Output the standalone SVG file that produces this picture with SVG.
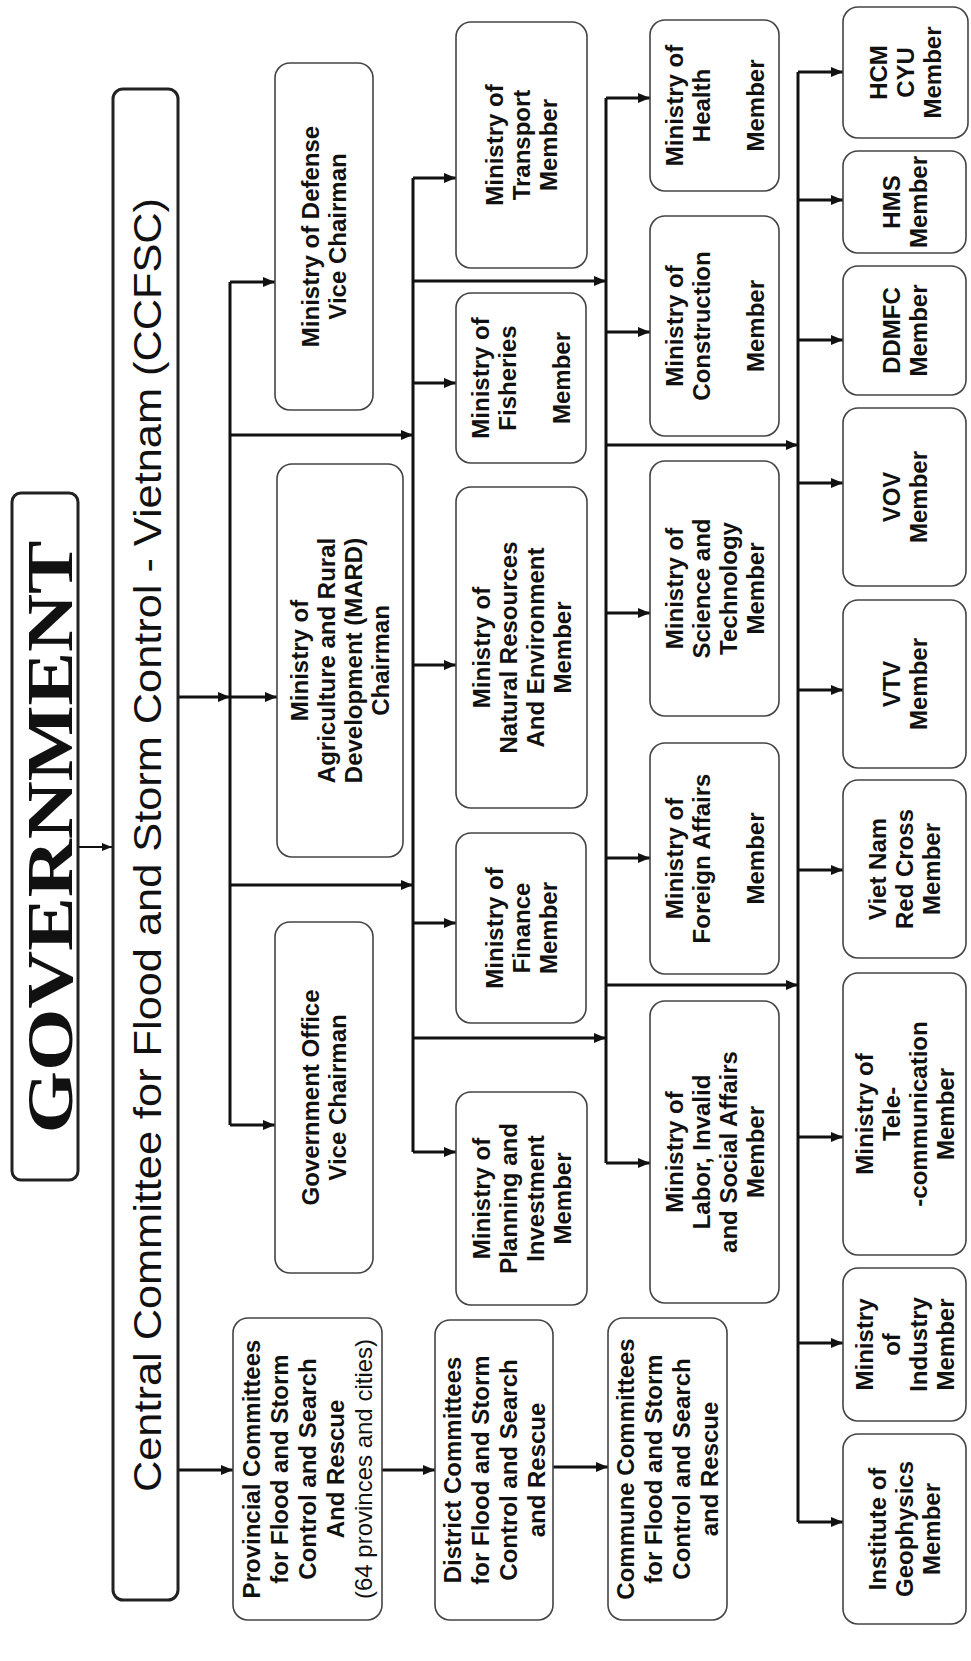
<svg xmlns="http://www.w3.org/2000/svg" width="971" height="1661" viewBox="0 0 971 1661">
<defs>
<style>
.box{fill:#fff;stroke:#444;stroke-width:1.6}
.main{fill:#fff;stroke:#222;stroke-width:3}
.t{font-family:"Liberation Sans",Arial,sans-serif;font-size:24px;font-weight:bold;fill:#111;text-anchor:middle}
.reg{font-weight:normal}
.c{fill:none;stroke:#111;stroke-width:3}
.a{fill:none;stroke:#111;stroke-width:3;marker-end:url(#ah)}
.thin{fill:none;stroke:#111;stroke-width:2;marker-end:url(#ahs)}
</style>
<marker id="ah" viewBox="0 0 12 10" refX="12" refY="5" markerWidth="12" markerHeight="10" markerUnits="userSpaceOnUse" orient="auto"><path d="M0,0 L12,5 L0,10 z" fill="#111"/></marker>
<marker id="ahs" viewBox="0 0 10 8" refX="10" refY="4" markerWidth="10" markerHeight="8" markerUnits="userSpaceOnUse" orient="auto"><path d="M0,0 L10,4 L0,8 z" fill="#111"/></marker>
</defs>
<rect width="971" height="1661" fill="#fff"/>

<g id="connectors">
<path class="thin" d="M78,847 H112"/>
<path class="a" d="M178,697 H230"/>
<path class="a" d="M230,697 H277"/>
<path class="c" d="M230,282 V1125"/>
<path class="a" d="M230,282 H275"/>
<path class="a" d="M230,1125 H275"/>
<path class="a" d="M230,435 H413"/>
<path class="a" d="M230,885 H413"/>
<path class="c" d="M413,178 V1152"/>
<path class="a" d="M413,178 H456"/>
<path class="a" d="M413,383 H456"/>
<path class="a" d="M413,665 H456"/>
<path class="a" d="M413,923 H456"/>
<path class="a" d="M413,1152 H456"/>
<path class="a" d="M413,281 H606"/>
<path class="a" d="M413,1038 H606"/>
<path class="c" d="M606,98 V1163"/>
<path class="a" d="M606,98 H650"/>
<path class="a" d="M606,332 H650"/>
<path class="a" d="M606,613 H650"/>
<path class="a" d="M606,858 H650"/>
<path class="a" d="M606,1163 H650"/>
<path class="a" d="M606,445 H798"/>
<path class="a" d="M606,985 H798"/>
<path class="c" d="M798,72 V1522"/>
<path class="a" d="M798,72 H843"/>
<path class="a" d="M798,200 H843"/>
<path class="a" d="M798,340 H843"/>
<path class="a" d="M798,483 H843"/>
<path class="a" d="M798,690 H843"/>
<path class="a" d="M798,870 H843"/>
<path class="a" d="M798,1137 H843"/>
<path class="a" d="M798,1343 H843"/>
<path class="a" d="M798,1522 H843"/>
<path class="a" d="M178,1470 H233"/>
<path class="a" d="M382,1470 H435"/>
<path class="a" d="M553,1467 H608"/>
</g>

<g id="government">
<rect class="main" x="12" y="493" width="66" height="687" rx="9"/>
<text transform="translate(71.5,837) rotate(-90)" x="0" y="0" text-anchor="middle" textLength="593" lengthAdjust="spacingAndGlyphs" style="font-family:'Liberation Serif','Times New Roman',serif;font-size:65px;font-weight:bold;fill:#111">GOVERNMENT</text>
</g>

<g id="ccfsc">
<rect class="main" x="113" y="89" width="65" height="1511" rx="10"/>
<text transform="translate(160.5,845) rotate(-90)" x="0" y="0" text-anchor="middle" textLength="1294" lengthAdjust="spacingAndGlyphs" style="font-family:'Liberation Sans',Arial,sans-serif;font-size:38px;fill:#111">Central Committee for Flood and Storm Control - Vietnam (CCFSC)</text>
</g>

<g id="defense">
<rect class="box" x="275" y="63" width="98" height="347" rx="15"/>
<text class="t" transform="translate(324,236.5) rotate(-90)"><tspan x="0" y="-5">Ministry of Defense</tspan><tspan x="0" y="22">Vice Chairman</tspan></text>
</g>

<g id="mard">
<rect class="box" x="277" y="464" width="126" height="393" rx="15"/>
<text class="t" transform="translate(340,660.5) rotate(-90)"><tspan x="0" y="-32">Ministry of</tspan><tspan x="0" y="-5">Agriculture and Rural</tspan><tspan x="0" y="22">Development (MARD)</tspan><tspan x="0" y="49">Chairman</tspan></text>
</g>

<g id="govoffice">
<rect class="box" x="275" y="922" width="98" height="351" rx="15"/>
<text class="t" transform="translate(324,1097.5) rotate(-90)"><tspan x="0" y="-5">Government Office</tspan><tspan x="0" y="22">Vice Chairman</tspan></text>
</g>

<g id="transport">
<rect class="box" x="456" y="22" width="131" height="246" rx="15"/>
<text class="t" transform="translate(521.5,145) rotate(-90)"><tspan x="0" y="-18.5">Ministry of</tspan><tspan x="0" y="8.5">Transport</tspan><tspan x="0" y="35.5">Member</tspan></text>
</g>

<g id="fisheries">
<rect class="box" x="456" y="293" width="130" height="170" rx="15"/>
<text class="t" transform="translate(521,378) rotate(-90)"><tspan x="0" y="-32">Ministry of</tspan><tspan x="0" y="-5">Fisheries</tspan><tspan x="0" y="49">Member</tspan></text>
</g>

<g id="natres">
<rect class="box" x="456" y="487" width="131" height="321" rx="15"/>
<text class="t" transform="translate(521.5,647.5) rotate(-90)"><tspan x="0" y="-32">Ministry of</tspan><tspan x="0" y="-5">Natural Resources</tspan><tspan x="0" y="22">And Environment</tspan><tspan x="0" y="49">Member</tspan></text>
</g>

<g id="finance">
<rect class="box" x="456" y="833" width="130" height="190" rx="15"/>
<text class="t" transform="translate(521,928) rotate(-90)"><tspan x="0" y="-18.5">Ministry of</tspan><tspan x="0" y="8.5">Finance</tspan><tspan x="0" y="35.5">Member</tspan></text>
</g>

<g id="planning">
<rect class="box" x="456" y="1092" width="131" height="213" rx="15"/>
<text class="t" transform="translate(521.5,1198.5) rotate(-90)"><tspan x="0" y="-32">Ministry of</tspan><tspan x="0" y="-5">Planning and</tspan><tspan x="0" y="22">Investment</tspan><tspan x="0" y="49">Member</tspan></text>
</g>

<g id="health">
<rect class="box" x="650" y="20" width="129" height="171" rx="15"/>
<text class="t" transform="translate(714.5,105.5) rotate(-90)"><tspan x="0" y="-32">Ministry of</tspan><tspan x="0" y="-5">Health</tspan><tspan x="0" y="49">Member</tspan></text>
</g>

<g id="construction">
<rect class="box" x="650" y="216" width="129" height="220" rx="15"/>
<text class="t" transform="translate(714.5,326) rotate(-90)"><tspan x="0" y="-32">Ministry of</tspan><tspan x="0" y="-5">Construction</tspan><tspan x="0" y="49">Member</tspan></text>
</g>

<g id="science">
<rect class="box" x="650" y="461" width="129" height="255" rx="15"/>
<text class="t" transform="translate(714.5,588.5) rotate(-90)"><tspan x="0" y="-32">Ministry of</tspan><tspan x="0" y="-5">Science and</tspan><tspan x="0" y="22">Technology</tspan><tspan x="0" y="49">Member</tspan></text>
</g>

<g id="foreign">
<rect class="box" x="650" y="743" width="129" height="231" rx="15"/>
<text class="t" transform="translate(714.5,858.5) rotate(-90)"><tspan x="0" y="-32">Ministry of</tspan><tspan x="0" y="-5">Foreign Affairs</tspan><tspan x="0" y="49">Member</tspan></text>
</g>

<g id="labor">
<rect class="box" x="650" y="1001" width="129" height="302" rx="15"/>
<text class="t" transform="translate(714.5,1152) rotate(-90)"><tspan x="0" y="-32">Ministry of</tspan><tspan x="0" y="-5">Labor, Invalid</tspan><tspan x="0" y="22">and Social Affairs</tspan><tspan x="0" y="49">Member</tspan></text>
</g>

<g id="hcm">
<rect class="box" x="843" y="7" width="125" height="131" rx="15"/>
<text class="t" transform="translate(905.5,72.5) rotate(-90)"><tspan x="0" y="-18.5">HCM</tspan><tspan x="0" y="8.5">CYU</tspan><tspan x="0" y="35.5">Member</tspan></text>
</g>

<g id="hms">
<rect class="box" x="843" y="151" width="123" height="102" rx="15"/>
<text class="t" transform="translate(904.5,202) rotate(-90)"><tspan x="0" y="-5">HMS</tspan><tspan x="0" y="22">Member</tspan></text>
</g>

<g id="ddmfc">
<rect class="box" x="843" y="266" width="123" height="129" rx="15"/>
<text class="t" transform="translate(904.5,330.5) rotate(-90)"><tspan x="0" y="-5">DDMFC</tspan><tspan x="0" y="22">Member</tspan></text>
</g>

<g id="vov">
<rect class="box" x="843" y="408" width="123" height="178" rx="15"/>
<text class="t" transform="translate(904.5,497) rotate(-90)"><tspan x="0" y="-5">VOV</tspan><tspan x="0" y="22">Member</tspan></text>
</g>

<g id="vtv">
<rect class="box" x="843" y="600" width="123" height="168" rx="15"/>
<text class="t" transform="translate(904.5,684) rotate(-90)"><tspan x="0" y="-5">VTV</tspan><tspan x="0" y="22">Member</tspan></text>
</g>

<g id="redcross">
<rect class="box" x="843" y="780" width="123" height="178" rx="15"/>
<text class="t" transform="translate(904.5,869) rotate(-90)"><tspan x="0" y="-18.5">Viet Nam</tspan><tspan x="0" y="8.5">Red Cross</tspan><tspan x="0" y="35.5">Member</tspan></text>
</g>

<g id="telecom">
<rect class="box" x="843" y="973" width="123" height="282" rx="15"/>
<text class="t" transform="translate(904.5,1114) rotate(-90)"><tspan x="0" y="-32">Ministry of</tspan><tspan x="0" y="-5">Tele-</tspan><tspan x="0" y="22">-communication</tspan><tspan x="0" y="49">Member</tspan></text>
</g>

<g id="industry">
<rect class="box" x="843" y="1268" width="123" height="153" rx="15"/>
<text class="t" transform="translate(904.5,1344.5) rotate(-90)"><tspan x="0" y="-32">Ministry</tspan><tspan x="0" y="-5">of</tspan><tspan x="0" y="22">Industry</tspan><tspan x="0" y="49">Member</tspan></text>
</g>

<g id="geophysics">
<rect class="box" x="843" y="1434" width="123" height="190" rx="15"/>
<text class="t" transform="translate(904.5,1529) rotate(-90)"><tspan x="0" y="-18.5">Institute of</tspan><tspan x="0" y="8.5">Geophysics</tspan><tspan x="0" y="35.5">Member</tspan></text>
</g>

<g id="provincial">
<rect class="box" x="233" y="1318" width="149" height="302" rx="15"/>
<text class="t" transform="translate(307.5,1469) rotate(-90)"><tspan x="0" y="-47.4">Provincial Committees</tspan><tspan x="0" y="-19.4">for Flood and Storm</tspan><tspan x="0" y="8.6">Control and Search</tspan><tspan x="0" y="36.6">And Rescue</tspan><tspan x="0" y="64.6" class="reg">(64 provinces and cities)</tspan></text>
</g>

<g id="district">
<rect class="box" x="435" y="1320" width="118" height="300" rx="15"/>
<text class="t" transform="translate(494,1470) rotate(-90)"><tspan x="0" y="-33.4">District Committees</tspan><tspan x="0" y="-5.4">for Flood and Storm</tspan><tspan x="0" y="22.6">Control and Search</tspan><tspan x="0" y="50.6">and Rescue</tspan></text>
</g>

<g id="commune">
<rect class="box" x="608" y="1318" width="119" height="302" rx="15"/>
<text class="t" transform="translate(667.5,1469) rotate(-90)"><tspan x="0" y="-33.4">Commune Committees</tspan><tspan x="0" y="-5.4">for Flood and Storm</tspan><tspan x="0" y="22.6">Control and Search</tspan><tspan x="0" y="50.6">and Rescue</tspan></text>
</g>
</svg>
